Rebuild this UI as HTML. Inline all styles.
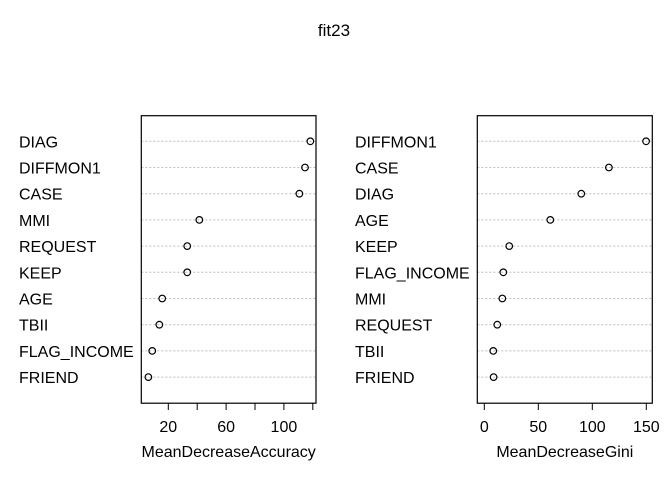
<!DOCTYPE html>
<html><head><meta charset="utf-8"><style>
body{margin:0;background:#fff}
text{font-family:"Liberation Sans",Arial,sans-serif;fill:#000}
</style></head><body>
<svg id="c" width="672" height="480" xmlns="http://www.w3.org/2000/svg">
<rect width="672" height="480" fill="#fff"/>
<text x="334" y="36" font-size="17" text-anchor="middle">fit23</text>
</svg>
<script>
const accLabels=["DIAG","DIFFMON1","CASE","MMI","REQUEST","KEEP","AGE","TBII","FLAG_INCOME","FRIEND"];
const accValues=[118.3,114.6,110.7,41.5,33.1,33.1,15.8,13.8,8.9,6.2];
const accTicks=[20,40,60,80,100,120];
const accTickLabels=["20","","60","","100",""];
const giniLabels=["DIFFMON1","CASE","DIAG","AGE","KEEP","FLAG_INCOME","MMI","REQUEST","TBII","FRIEND"];
const giniValues=[149.8,115.4,89.8,61.1,23.1,17.6,16.7,12,8.3,8.6];
const giniTicks=[0,50,100,150];
const giniTickLabels=["0","50","100","150"];
const NS="http://www.w3.org/2000/svg";
const svg=document.getElementById('c');
function mk(t,a,p){const e=document.createElementNS(NS,t);for(const k in a)e.setAttribute(k,a[k]);(p||svg).appendChild(e);return e;}
const rowY=i=>141.3+i*26.2;
function panel(cfg){
  const g=mk('g',{});
  
  
  const x=v=>cfg.x0+(v-cfg.v0)*cfg.k;
  cfg.labels.forEach((l,i)=>{
    const y=rowY(i);
    const ln=mk('line',{x1:cfg.bx0,x2:cfg.bx1,y1:y,y2:y,stroke:'#bebebe','stroke-dasharray':'2,2'},g);
    
    
    const t=mk('text',{x:cfg.lx,y:y+6,'font-size':16},g);t.textContent=l;
    
    
    const c=mk('circle',{cx:x(cfg.values[i]),cy:y,r:3.3,fill:'none',stroke:'#000','stroke-width':1.2},g);
    
    
  });
  const b=mk('rect',{x:cfg.bx0,y:115.7,width:cfg.bx1-cfg.bx0,height:287.5,fill:'none',stroke:'#000','stroke-width':1.2},g);
  
  
  cfg.ticks.forEach((v,i)=>{
    const tx=x(v);
    const tk=mk('line',{x1:tx,x2:tx,y1:403.2,y2:410,stroke:'#000'},g);
    
    
    if(cfg.tickLabels[i]){const t=mk('text',{x:tx,y:432,'font-size':16,'text-anchor':'middle'},g);t.textContent=cfg.tickLabels[i];
    
    }
  });
  const at=mk('text',{x:(cfg.bx0+cfg.bx1)/2,y:457,'font-size':16,'text-anchor':'middle'},g);at.textContent=cfg.title;
  
  
}
panel({name:'accuracy-panel',labels:accLabels,values:accValues,ticks:accTicks,tickLabels:accTickLabels,x0:168.3,v0:20,k:1.445,bx0:141.3,bx1:316,lx:19,title:'MeanDecreaseAccuracy'});
panel({name:'gini-panel',labels:giniLabels,values:giniValues,ticks:giniTicks,tickLabels:giniTickLabels,x0:484.3,v0:0,k:1.08,bx0:477.3,bx1:652.3,lx:355,title:'MeanDecreaseGini'});
</script>
</body></html>
